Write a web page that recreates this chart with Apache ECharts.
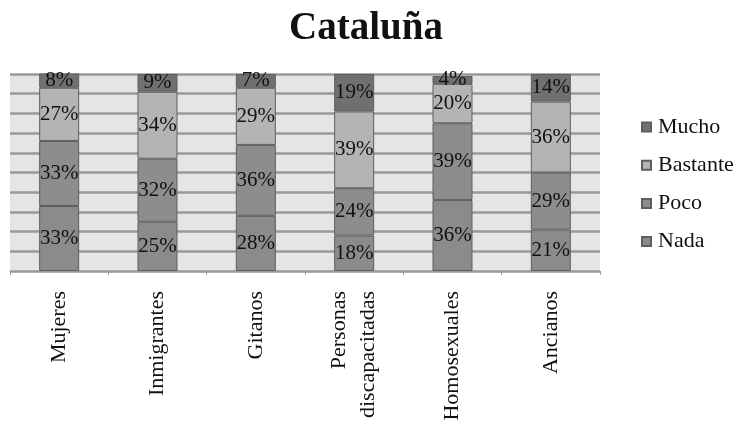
<!DOCTYPE html>
<html>
<head>
<meta charset="utf-8">
<script src="https://cdn.jsdelivr.net/npm/echarts@6/dist/echarts.min.js"></script>
<style>
  html, body { margin: 0; padding: 0; background: #fff; }
  #chart { width: 741px; height: 422px; }
</style>
</head>
<body>
<div id="chart"></div>
<script>
// Percent of answers per group, Cataluña survey
const categories = ['Mujeres', 'Inmigrantes', 'Gitanos', 'Personas\ndiscapacitadas', 'Homosexuales', 'Ancianos'];
const nada     = [33, 25, 28, 18, 36, 21];
const poco     = [33, 32, 36, 24, 39, 29];
const bastante = [27, 34, 29, 39, 20, 36];
const mucho    = [8, 9, 7, 19, 4, 14];
const yTicks   = { min: 0, max: 100, interval: 10 };

const serif = '"Liberation Serif", "Times New Roman", serif';

function stackSeries(name, data, color) {
  return {
    name: name,
    type: 'bar',
    stack: 'total',
    data: data,
    barWidth: 40,
    itemStyle: { color: color, borderColor: '#5e5e5e', borderWidth: 1 },
    label: {
      show: true,
      position: 'inside',
      formatter: '{c}%',
      fontFamily: serif,
      fontSize: 21,
      color: '#111'
    }
  };
}

const chart = echarts.init(document.getElementById('chart'), null, { renderer: 'canvas' });
chart.setOption({
  animation: false,
  backgroundColor: '#fff',
  title: {
    text: 'Cataluña',
    left: 361,
    textAlign: 'center',
    top: 4,
    textStyle: { fontFamily: serif, fontWeight: 'bold', fontSize: 39, color: '#111' }
  },
  legend: {
    orient: 'vertical',
    left: 636,
    top: 111,
    itemWidth: 9,
    itemHeight: 9,
    itemGap: 16.2,
    icon: 'rect',
    data: ['Mucho', 'Bastante', 'Poco', 'Nada'],
    textStyle: { fontFamily: serif, fontSize: 22, color: '#111', lineHeight: 22, padding: [0, 0, 0, 2] }
  },
  grid: {
    left: 10,
    right: 141,
    top: 74,
    bottom: 151,
    show: true,
    backgroundColor: '#e5e5e5',
    borderWidth: 0,
    containLabel: false,
    outerBoundsMode: 'none'
  },
  xAxis: {
    type: 'category',
    data: categories,
    axisLine: { show: true, lineStyle: { color: '#9a9a9a', width: 1 } },
    axisTick: { show: true, length: 4, lineStyle: { color: '#9a9a9a' } },
    axisLabel: {
      rotate: 90,
      margin: 20,
      interval: 0,
      fontFamily: serif,
      fontSize: 22,
      lineHeight: 29,
      color: '#111'
    }
  },
  yAxis: {
    type: 'value',
    min: yTicks.min,
    max: yTicks.max,
    interval: yTicks.interval,
    axisLabel: { show: false },
    axisLine: { show: false },
    axisTick: { show: false },
    splitLine: { show: true, lineStyle: { color: '#999999', width: 2.5 } }
  },
  series: [
    stackSeries('Nada', nada, '#8b8b8b'),
    stackSeries('Poco', poco, '#8d8d8d'),
    stackSeries('Bastante', bastante, '#b4b4b4'),
    stackSeries('Mucho', mucho, '#707070')
  ]
});
</script>
</body>
</html>
